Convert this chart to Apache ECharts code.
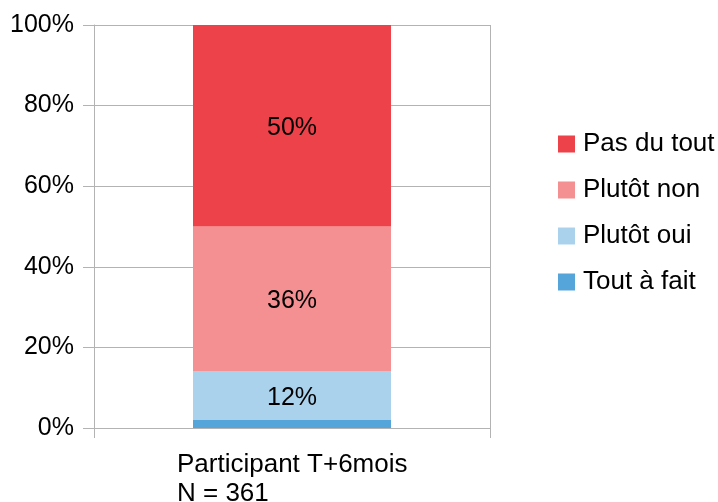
<!DOCTYPE html>
<html>
<head>
<meta charset="utf-8">
<script src="https://cdn.jsdelivr.net/npm/echarts@6/dist/echarts.min.js"></script>
<style>
  html, body { margin: 0; padding: 0; background: #fff; }
  #chart { width: 718px; height: 502px; }
</style>
</head>
<body>
<div id="chart"></div>
<script>
// One stacked 100% bar: answer distribution
const categories = ['Participant T+6mois\nN = 361'];
const seriesNames = ['Tout à fait', 'Plutôt oui', 'Plutôt non', 'Pas du tout'];
const toutAFait = [2];
const plutotOui = [12];
const plutotNon = [36];
const pasDuTout = [50];
const yTicks = [0, 20, 40, 60, 80, 100];

const colors = {
  'Tout à fait': '#55a5db',
  'Plutôt oui': '#abd2ec',
  'Plutôt non': '#f48f92',
  'Pas du tout': '#ee424a'
};
const values = {
  'Tout à fait': toutAFait,
  'Plutôt oui': plutotOui,
  'Plutôt non': plutotNon,
  'Pas du tout': pasDuTout
};

const FONT = '"Liberation Sans", Arial, sans-serif';
const GRID_COLOR = '#b3b3b3';

const chart = echarts.init(document.getElementById('chart'));

const series = seriesNames.map(name => ({
  name: name,
  type: 'bar',
  stack: 'total',
  barWidth: '50%',
  data: values[name],
  itemStyle: { color: colors[name] },
  label: {
    show: name !== 'Tout à fait',
    position: 'inside',
    formatter: '{c}%',
    color: '#000',
    fontFamily: FONT,
    fontSize: 25,
    offset: [0, 2]
  },
  emphasis: { disabled: true }
}));

chart.setOption({
  animation: false,
  textStyle: { fontFamily: FONT },
  grid: {
    left: 94, right: 228, top: 25, bottom: 74,
    containLabel: false,
    outerBoundsMode: 'none'
  },
  legend: {
    orient: 'vertical',
    left: 553,
    top: 126,
    itemWidth: 17,
    itemHeight: 17,
    itemGap: 20,
    icon: 'rect',
    data: ['Pas du tout', 'Plutôt non', 'Plutôt oui', 'Tout à fait'],
    textStyle: { fontFamily: FONT, fontSize: 26, color: '#000', padding: [3, 0, 0, 3] }
  },
  xAxis: {
    type: 'category',
    data: categories,
    axisLine: { show: true, lineStyle: { color: GRID_COLOR, width: 1 } },
    axisTick: { show: true, length: 10, lineStyle: { color: GRID_COLOR } },
    splitLine: { show: true, lineStyle: { color: GRID_COLOR, width: 1 } },
    axisLabel: {
      margin: 22,
      color: '#000',
      fontFamily: FONT,
      fontSize: 26,
      formatter: v => v.split('\n').map(s => '{l|' + s + '}').join('\n'),
      rich: {
        l: { width: 230, align: 'left', fontFamily: FONT, fontSize: 26, color: '#000', lineHeight: 29 }
      }
    }
  },
  yAxis: {
    type: 'value',
    min: yTicks[0],
    max: yTicks[yTicks.length - 1],
    interval: 20,
    axisLine: { show: true, lineStyle: { color: GRID_COLOR, width: 1 } },
    axisTick: { show: true, length: 11, lineStyle: { color: GRID_COLOR } },
    splitLine: { show: true, lineStyle: { color: GRID_COLOR, width: 1 } },
    axisLabel: {
      margin: 20,
      color: '#000',
      fontFamily: FONT,
      fontSize: 25,
      formatter: '{value}%',
      padding: [6, 0, 0, 0]
    }
  },
  series: series
});
</script>
</body>
</html>
